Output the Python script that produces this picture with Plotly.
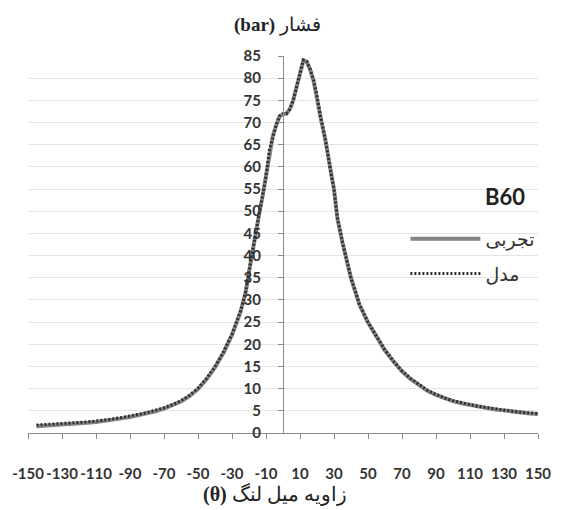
import plotly.graph_objects as go

# crank angle (deg)
theta = [-145, -140, -135, -130, -125, -120, -115, -110, -105, -100, -95, -90, -85, -80,
         -75, -70, -65, -60, -55, -50, -45, -40, -35, -30, -25, -22, -20, -18, -16, -14,
         -12, -10, -8, -6, -4, -2, 0, 2, 4, 6, 8, 10, 12, 14, 16, 18, 20, 22, 25, 28,
         30, 32, 35, 40, 45, 50, 55, 60, 65, 70, 75, 80, 85, 90, 95, 100, 105, 110,
         115, 120, 125, 130, 135, 140, 145, 150]

# experimental pressure (bar)
p_exp = [1.5, 1.6, 1.7, 1.8, 1.95, 2.1, 2.3, 2.5, 2.7, 3.0, 3.3, 3.6, 4.0, 4.4,
         4.9, 5.5, 6.2, 7.1, 8.3, 9.9, 12.1, 14.8, 18.1, 22.1, 27.3, 31.6, 36.3, 40.8, 45.8, 49.4,
         53.4, 57.9, 63.6, 66.9, 69.4, 71.4, 71.9, 72.0, 73.0, 75.0, 78.0, 81.5, 84.0, 83.7, 81.9, 79.4, 75.9, 71.4, 65.9, 58.9,
         54.9, 48.4, 42.9, 34.9, 28.9, 24.9, 21.6, 18.6, 16.1, 13.9, 12.2, 10.8, 9.5, 8.6, 7.8, 7.2, 6.7, 6.3,
         5.9, 5.6, 5.3, 5.1, 4.8, 4.6, 4.4, 4.3]

# model pressure (bar)
p_mod = [1.8, 1.9, 2.0, 2.1, 2.2, 2.35, 2.5, 2.7, 2.9, 3.2, 3.5, 3.8, 4.2, 4.6,
         5.1, 5.7, 6.4, 7.3, 8.5, 10.1, 12.3, 15.0, 18.3, 22.3, 27.5, 31.8, 36.5, 41.0, 46.0, 49.5,
         53.5, 58.0, 63.8, 67.0, 69.5, 71.5, 72.0, 72.0, 73.0, 75.0, 78.0, 81.5, 84.1, 83.8, 82.0, 79.5, 76.0, 71.5, 66.0, 59.0,
         55.0, 48.5, 43.0, 35.0, 29.0, 25.0, 21.7, 18.7, 16.2, 14.0, 12.3, 10.9, 9.6, 8.7, 7.9, 7.3, 6.8, 6.4,
         6.0, 5.7, 5.4, 5.2, 4.9, 4.7, 4.5, 4.4]

x_tick_vals = list(range(-150, 151, 20))
x_tick_text = [str(v) for v in x_tick_vals]  # ASCII hyphen as in the original
y_tick_vals = list(range(0, 86, 5))

series_names = ["تجربی", "مدل"]
legend_title = "B60"
y_title = "<b>(bar)</b> فشار"
x_title = "<b>(θ)</b> زاویه میل لنگ"

fig = go.Figure()
fig.add_trace(go.Scatter(x=theta, y=p_exp, mode="lines", name=series_names[0],
                         line=dict(color="#858585", width=4), legendgroup="a"))
fig.add_trace(go.Scatter(x=theta, y=p_mod, mode="lines", name=series_names[1],
                         line=dict(color="#2e2e2e", width=3, dash="2px,2px"), legendgroup="b"))

tick_font = dict(family="Lato, Liberation Sans, sans-serif", size=15, color="#333333", weight="bold")

fig.update_layout(
    width=563, height=510,
    margin=dict(l=27, r=16, t=56, b=77),
    paper_bgcolor="white", plot_bgcolor="white",
    showlegend=True,
    legend=dict(x=0.74, y=0.565, xanchor="left", yanchor="top",
                font=dict(family="DejaVu Sans", size=19, color="#333333"),
                itemwidth=70, tracegroupgap=7, bgcolor="rgba(0,0,0,0)"),
    xaxis=dict(range=[-150, 150], tickvals=x_tick_vals, ticktext=x_tick_text,
               showgrid=False, zeroline=False, showline=True, linecolor="#8a8a8a", linewidth=1,
               ticks="outside", ticklen=5, tickcolor="#8a8a8a", tickfont=tick_font,
               ticklabelstandoff=22),
    yaxis=dict(range=[0, 85], tickvals=y_tick_vals, anchor="free", position=0.5,
               showgrid=True, gridcolor="#e4e4e4", gridwidth=1, zeroline=False,
               showline=True, linecolor="#8a8a8a", linewidth=1,
               ticks="outside", ticklen=5, tickcolor="#8a8a8a", tickfont=tick_font,
               ticklabelstandoff=14),
    annotations=[
        dict(text=y_title, x=0.49, y=1.082, xref="paper", yref="paper",
             showarrow=False, xanchor="center", yanchor="middle",
             font=dict(family="Liberation Serif, DejaVu Serif, serif", size=19, color="#222222")),
        dict(text=x_title, x=0.485, y=-0.164, xref="paper", yref="paper",
             showarrow=False, xanchor="center", yanchor="middle",
             font=dict(family="Liberation Serif, DejaVu Serif, serif", size=20, color="#222222")),
        dict(text="<b>" + legend_title + "</b>", x=0.935, y=0.628, xref="paper", yref="paper",
             showarrow=False, xanchor="center", yanchor="middle",
             font=dict(family="Lato, Open Sans, sans-serif", size=22, color="#222222")),
    ],
)

fig.write_html("out.html")
